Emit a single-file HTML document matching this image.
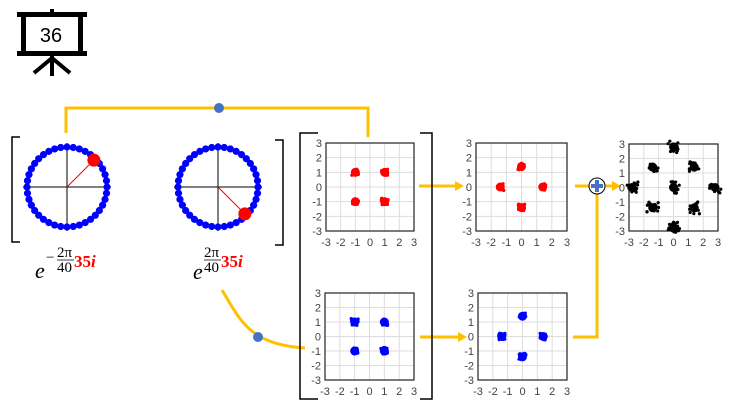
<!DOCTYPE html>
<html><head><meta charset="utf-8"><style>
body{margin:0;background:#fff;}
svg{display:block;font-family:"Liberation Sans",sans-serif;}
</style></head><body>
<svg id="s" width="733" height="406" viewBox="0 0 733 406" xmlns="http://www.w3.org/2000/svg">
<!-- icon -->
<g fill="#000">
<rect x="50" y="9" width="4" height="6"/>
<rect x="50" y="54" width="4" height="22"/>
<rect x="17" y="12" width="70" height="5"/>
<rect x="17" y="51" width="70" height="5"/>
<rect x="21" y="14" width="5" height="40"/>
<rect x="78" y="14" width="5" height="40"/>
</g>
<line x1="52" y1="58" x2="34" y2="73" stroke="#000" stroke-width="4"/>
<line x1="52" y1="58" x2="70" y2="73" stroke="#000" stroke-width="4"/>
<text x="51" y="42" font-size="20" text-anchor="middle">36</text>

<!-- orange connectors -->
<g stroke="#FFC000" stroke-width="3" fill="none">
<polyline points="66,133 66,108 368,108 368,137"/>
<path d="M222,290 C240,320 250,345 305,348"/>
<line x1="419" y1="186" x2="455" y2="186"/>
<line x1="420" y1="337" x2="458" y2="337"/>
<line x1="575" y1="186" x2="589" y2="186"/>
<line x1="605" y1="186" x2="613" y2="186"/>
<polyline points="573,337 597,337 597,194"/>
</g>
<g fill="#FFC000">
<polygon points="455,181 464,186 455,191"/>
<polygon points="458,332 467,337 458,342"/>
<polygon points="612,181 621,186 612,191"/>
</g>
<circle cx="219" cy="108" r="5" fill="#4472C4"/>
<circle cx="258" cy="337" r="5" fill="#4472C4"/>
<circle cx="597" cy="186" r="8" fill="#fff" stroke="#000" stroke-width="1"/>
<rect x="595" y="180" width="4" height="12" fill="#4472C4"/>
<rect x="591" y="184" width="12" height="4" fill="#4472C4"/>

<!-- brackets -->
<g stroke="#000" stroke-width="1.5" fill="none">
<polyline points="20,137 12,137 12,242 20,242"/>
<polyline points="275,140 283,140 283,245 275,245"/>
<polyline points="318,133 300,133 300,399 318,399"/>
<polyline points="420,133 432,133 432,399 420,399"/>
</g>

<g id="circ"></g>
<g id="plots"></g>

<!-- labels -->
<g font-family="'Liberation Serif',serif">
<text x="35" y="278" font-size="22" font-style="italic">e</text>
<text x="46" y="262" font-size="15">−</text>
<text x="57" y="257" font-size="15">2π</text>
<line x1="57" y1="260" x2="74" y2="260" stroke="#000" stroke-width="0.8"/>
<text x="57" y="272" font-size="15">40</text>
<text x="74" y="267" font-size="17" font-weight="bold" fill="#f00">35<tspan font-style="italic">i</tspan></text>

<text x="193" y="279" font-size="22" font-style="italic">e</text>
<text x="204" y="257" font-size="15">2π</text>
<line x1="204" y1="260" x2="221" y2="260" stroke="#000" stroke-width="0.8"/>
<text x="204" y="272" font-size="15">40</text>
<text x="221" y="267" font-size="17" font-weight="bold" fill="#f00">35<tspan font-style="italic">i</tspan></text>
</g>
</svg>
<script>
var NS="http://www.w3.org/2000/svg";
function el(p,t,a){var e=document.createElementNS(NS,t);for(var k in a)e.setAttribute(k,a[k]);p.appendChild(e);return e;}
var C=document.getElementById('circ');
function circle(cx,cy,ang){
 el(C,'line',{x1:cx-44,y1:cy,x2:cx+44,y2:cy,stroke:'#000','stroke-width':1});
 el(C,'line',{x1:cx,y1:cy-44,x2:cx,y2:cy+44,stroke:'#000','stroke-width':1});
 for(var i=0;i<40;i++){var a=i*Math.PI*2/40;el(C,'circle',{cx:cx+40*Math.cos(a),cy:cy-40*Math.sin(a),r:3.6,fill:'#00f'});}
 var a=ang*Math.PI/180,x=cx+38*Math.cos(a),y=cy-38*Math.sin(a);
 el(C,'line',{x1:cx,y1:cy,x2:x-5*Math.cos(a),y2:y+5*Math.sin(a),stroke:'#f00','stroke-width':1});
 el(C,'circle',{cx:x,cy:y,r:6.5,fill:'#f00'});
}
circle(67,187,45);circle(218,187,-45);
var P=document.getElementById('plots');
var seed=7;function rnd(){seed=(seed*16807)%2147483647;return seed/2147483647;}
function plot(x0,y0,w,h,pts,col,big){
 var sx=w/6,sy=h/6;
 el(P,'rect',{x:x0,y:y0,width:w,height:h,fill:'#fff'});
 for(var i=1;i<6;i++){el(P,'line',{x1:x0+i*sx,y1:y0,x2:x0+i*sx,y2:y0+h,stroke:'#ddd','stroke-width':1});el(P,'line',{x1:x0,y1:y0+i*sy,x2:x0+w,y2:y0+i*sy,stroke:'#ddd','stroke-width':1});}
 el(P,'rect',{x:x0,y:y0,width:w,height:h,fill:'none',stroke:'#222','stroke-width':1.2});
 for(var i=0;i<=6;i++){var v=3-i;
  var t=el(P,'text',{x:x0-4,y:y0+i*sy+4,'font-size':11,'text-anchor':'end',fill:'#444'});t.textContent=v;
  var t2=el(P,'text',{x:x0+i*sx,y:y0+h+15,'font-size':11,'text-anchor':'middle',fill:'#444'});t2.textContent=(i-3);}
 pts.forEach(function(p){var cx=x0+(p[0]+3)*sx,cy=y0+(3-p[1])*sy;
  el(P,'circle',{cx:cx,cy:cy,r:big?4.5:4.5,fill:col});
  for(var k=0;k<14;k++){el(P,'circle',{cx:cx+(rnd()-0.5)*(big?12:7),cy:cy+(rnd()-0.5)*(big?12:7),r:1.6,fill:col});}
 });
}
var sq=[[-1,1],[1,1],[-1,-1],[1,-1]],di=[[0,1.4],[-1.4,0],[1.4,0],[0,-1.4]];
plot(326,143,88,88,sq,'#f00');
plot(476,143,91,88,di,'#f00');
plot(325,293,89,87,sq,'#00f');
plot(478,293,89,87,di,'#00f');
plot(629,144,89,87,[[0,2.8],[-1.4,1.4],[1.4,1.4],[-2.8,0],[0,0],[2.8,0],[-1.4,-1.4],[1.4,-1.4],[0,-2.8]],'#000',true);
</script>
</body></html>
